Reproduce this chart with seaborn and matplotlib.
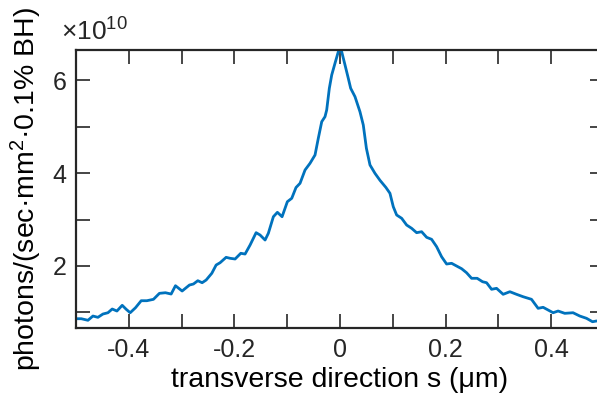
import numpy as np
import pandas as pd
import matplotlib
matplotlib.use("Agg")
import matplotlib.pyplot as plt
from matplotlib.ticker import FixedLocator, FuncFormatter
import seaborn as sns

# Transverse position s (um) and brightness in units of 1e10 photons/(sec mm^2 0.1% BH)
s_um = [-0.4995, -0.490, -0.4774, -0.4679, -0.4585, -0.4490, -0.4395, -0.4314, -0.4225, -0.4125,
        -0.4049, -0.3974, -0.3873, -0.3765, -0.3658, -0.3533, -0.3420, -0.3306, -0.3198, -0.3116,
        -0.2990, -0.2851, -0.2776, -0.2693, -0.2611, -0.2535, -0.2428, -0.2346, -0.2271, -0.2157,
        -0.2081, -0.1987, -0.1879, -0.1798, -0.1703, -0.1589, -0.1514, -0.1419, -0.1357, -0.1262,
        -0.1186, -0.1097, -0.0997, -0.0914, -0.0833, -0.0757, -0.0662, -0.0568, -0.0473, -0.0411,
        -0.0346, -0.0284, -0.0252, -0.0202, -0.0157, -0.0095, -0.0032, 0.0, 0.0032, 0.0095,
        0.0157, 0.0202, 0.0284, 0.0378, 0.0441, 0.0500, 0.0568, 0.0662, 0.0757, 0.0870,
        0.0946, 0.1009, 0.1073, 0.1168, 0.1262, 0.1357, 0.1451, 0.1546, 0.1641, 0.1735,
        0.1830, 0.1924, 0.2019, 0.2114, 0.2208, 0.2303, 0.2397, 0.2492, 0.2598, 0.2700,
        0.2776, 0.2871, 0.2965, 0.3090, 0.3217, 0.3343, 0.3468, 0.3627, 0.3752, 0.3847,
        0.3941, 0.4036, 0.4131, 0.4257, 0.4414, 0.4541, 0.4668, 0.4782, 0.4857, 0.5000]
brightness_e10 = [0.862, 0.862, 0.828, 0.920, 0.892, 0.963, 0.991, 1.071, 1.028, 1.151,
                  1.065, 0.991, 1.099, 1.250, 1.250, 1.280, 1.409, 1.422, 1.394, 1.573,
                  1.459, 1.588, 1.610, 1.681, 1.638, 1.696, 1.841, 2.019, 2.069, 2.185,
                  2.164, 2.149, 2.272, 2.256, 2.450, 2.716, 2.666, 2.558, 2.703, 3.060,
                  3.155, 3.060, 3.384, 3.457, 3.690, 3.780, 4.067, 4.211, 4.390, 4.750,
                  5.108, 5.216, 5.360, 5.828, 6.114, 6.366, 6.616, 6.653, 6.616, 6.330,
                  6.043, 5.828, 5.647, 5.323, 5.037, 4.534, 4.175, 3.996, 3.845, 3.690,
                  3.565, 3.276, 3.097, 3.026, 2.881, 2.810, 2.716, 2.737, 2.616, 2.573,
                  2.414, 2.198, 2.041, 2.056, 1.998, 1.940, 1.853, 1.733, 1.733, 1.659,
                  1.638, 1.496, 1.517, 1.388, 1.444, 1.388, 1.336, 1.280, 1.086, 1.108,
                  1.050, 0.991, 1.028, 0.978, 0.991, 0.920, 0.871, 0.797, 0.813, 0.800]
SCALE = 1e10

x_ticks = [-0.5, -0.4, -0.3, -0.2, -0.1, 0.0, 0.1, 0.2, 0.3, 0.4, 0.5]
x_labeled = [-0.4, -0.2, 0.0, 0.2, 0.4]
y_ticks = [1, 2, 3, 4, 5, 6]
y_labeled = [2, 4, 6]

df = pd.DataFrame({"s": s_um, "B": np.array(brightness_e10) * SCALE})

sns.set_style("ticks")
plt.rcParams["font.family"] = ["Liberation Sans", "DejaVu Sans"]
plt.rcParams["axes.unicode_minus"] = False
plt.rcParams["mathtext.fontset"] = "custom"
plt.rcParams["mathtext.rm"] = "Liberation Sans"
plt.rcParams["mathtext.it"] = "Liberation Sans"

ink = "#262626"
fig = plt.figure(figsize=(5.97, 3.99), dpi=100)
ax = fig.add_axes([76 / 597, 71 / 399, 528 / 597, 278 / 399])

sns.lineplot(data=df, x="s", y="B", ax=ax, color="#0072BD", linewidth=2.0)

ax.set_xlim(-0.5, 0.5)
ax.set_ylim(0.662 * SCALE, 6.653 * SCALE)

ax.xaxis.set_major_locator(FixedLocator(x_ticks))
ax.xaxis.set_major_formatter(FuncFormatter(
    lambda v, p: (f"{v:g}" if any(abs(v - t) < 1e-9 for t in x_labeled) else "")))
ax.yaxis.set_major_locator(FixedLocator([t * SCALE for t in y_ticks]))
ax.yaxis.set_major_formatter(FuncFormatter(
    lambda v, p: (f"{v / SCALE:g}" if any(abs(v / SCALE - t) < 1e-9 for t in y_labeled) else "")))

ax.tick_params(direction="in", length=10, width=1.2, color=ink, labelcolor=ink,
               labelsize=18, top=True, right=True, pad=7)
for sp in ax.spines.values():
    sp.set_visible(True)
    sp.set_color(ink)
    sp.set_linewidth(1.6)

ax.set_xlabel("transverse direction s (\u03bcm)", fontsize=20.5, color="black", labelpad=4)
ax.set_ylabel("photons/(sec\u00b7mm$^2$\u00b70.1% BH)", fontsize=20.5, color="black", labelpad=6)
ax.text(-0.029, 1.035, "\u00d710$^{10}$", transform=ax.transAxes, fontsize=19,
        color=ink, ha="left", va="baseline")

fig.savefig("out.png", dpi=100)
